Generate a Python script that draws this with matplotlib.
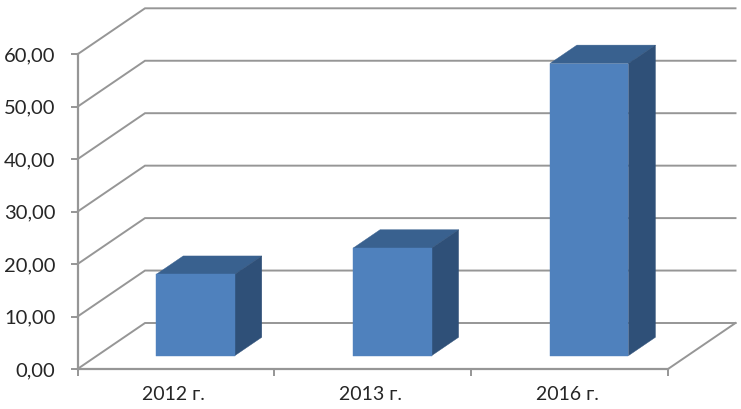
import matplotlib
matplotlib.use("Agg")
import matplotlib.pyplot as plt
from matplotlib.patches import Polygon
from matplotlib.transforms import ScaledTranslation

categories = ["2012 г.", "2013 г.", "2016 г."]
values = [15.5, 20.5, 55.7]
y_ticks = [0, 10, 20, 30, 40, 50, 60]
y_labels = ["0,00", "10,00", "20,00", "30,00", "40,00", "50,00", "60,00"]

W, H = 741, 409
LEFT, RIGHT, BOTTOM_Y, TOP_Y = 77.5, 668, 369, 54.3
DX = 67.5 / (RIGHT - LEFT) * 3      # wall depth in data units
DY = 46 / (BOTTOM_Y - TOP_Y) * 60
BAR_W = 0.399
D0, D1 = 0.29, 0.69                 # bar depth range as fraction of floor depth

GRID = "#969696"
FRONT, TOP, SIDE = "#4f81bd", "#39618f", "#2f5078"
TEXT = "#262626"

plt.rcParams["font.family"] = ["Lato", "DejaVu Sans"]
fig = plt.figure(figsize=(W / 100, H / 100), dpi=100)
ax = fig.add_axes([LEFT / W, (H - BOTTOM_Y) / H, (RIGHT - LEFT) / W, (BOTTOM_Y - TOP_Y) / H])
ax.set_xlim(0, 3)
ax.set_ylim(0, 60)


def proj(x, y, d):
    return x + d * DX, y + d * DY


# walls
for v in y_ticks:
    a, b, c = proj(0, v, 0), proj(0, v, 1), proj(3, v, 1)
    ax.plot([a[0], b[0], c[0]], [a[1], b[1], c[1]], color=GRID, lw=1.4,
            clip_on=False, zorder=1, solid_joinstyle="miter")
a, b = proj(3, 0, 0), proj(3, 0, 1)
ax.plot([a[0], b[0]], [a[1], b[1]], color=GRID, lw=1.4, clip_on=False, zorder=1)

# bars
for i, v in enumerate(values):
    x0 = i + 0.5 - BAR_W / 2
    x1 = i + 0.5 + BAR_W / 2
    top = [proj(x0, v, D0), proj(x1, v, D0), proj(x1, v, D1), proj(x0, v, D1)]
    side = [proj(x1, 0, D0), proj(x1, 0, D1), proj(x1, v, D1), proj(x1, v, D0)]
    front = [proj(x0, 0, D0), proj(x1, 0, D0), proj(x1, v, D0), proj(x0, v, D0)]
    ax.add_patch(Polygon(top, fc=TOP, ec=TOP, lw=0.3, clip_on=False, zorder=3))
    ax.add_patch(Polygon(side, fc=SIDE, ec=SIDE, lw=0.3, clip_on=False, zorder=3))
    ax.add_patch(Polygon(front, fc=FRONT, ec=FRONT, lw=0.3, clip_on=False, zorder=4))

# axes
for s in ["top", "right"]:
    ax.spines[s].set_visible(False)
for s in ["left", "bottom"]:
    ax.spines[s].set_color(GRID)
    ax.spines[s].set_linewidth(1.6)
    ax.spines[s].set_zorder(5)
ax.patch.set_visible(False)

ax.set_yticks(y_ticks)
ax.set_yticklabels(y_labels)
ax.set_xticks([0, 1, 2, 3])
ax.set_xticklabels([])
ax.set_xticks([0.5, 1.5, 2.5], minor=True)
ax.set_xticklabels(categories, minor=True)
ax.tick_params(axis="y", length=5, width=1.4, color=GRID, labelsize=14.5, labelcolor=TEXT, pad=11)
ax.tick_params(axis="x", which="major", length=5, width=1.4, color=GRID)
ax.tick_params(axis="x", which="minor", length=0, labelsize=14, labelcolor=TEXT, pad=12)

shift = ScaledTranslation(-2 / 100, 0, fig.dpi_scale_trans)
for lab in ax.get_xticklabels(minor=True):
    lab.set_transform(lab.get_transform() + shift)

fig.savefig("out.png", dpi=100, facecolor="white")
